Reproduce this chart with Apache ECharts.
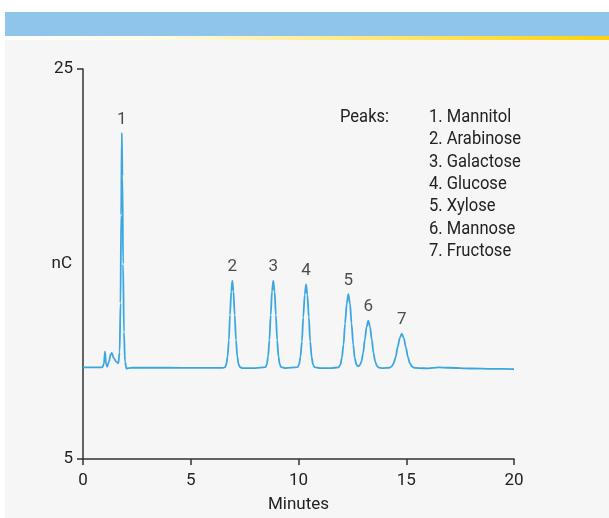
<!DOCTYPE html>
<html>
<head>
<meta charset="utf-8">
<script src="https://cdn.jsdelivr.net/npm/echarts@6/dist/echarts.min.js"></script>
<style>html,body{margin:0;padding:0;background:#fff;}#c{width:609px;height:518px;}</style>
</head>
<body>
<div id="c"></div>
<script>
// chromatogram trace (minutes, nC)
const minutes = [0,0.5,0.9,0.97,1.02,1.07,1.12,1.2,1.28,1.34,1.42,1.55,1.64,1.70,1.74,1.77,1.80,1.83,1.86,1.90,1.95,2.02,2.1,2.3,
  3,4,5,6,6.5,6.60,6.65,6.71,6.77,6.82,6.88,6.93,6.98,7.04,7.10,7.16,7.22,7.28,7.4,
  8,8.47,8.53,8.59,8.65,8.71,8.77,8.83,8.89,8.95,9.01,9.07,9.13,9.19,9.4,
  9.96,10.03,10.09,10.16,10.22,10.29,10.35,10.41,10.48,10.54,10.61,10.67,10.74,11,11.5,
  11.86,11.94,12.01,12.09,12.16,12.24,12.31,12.39,12.46,12.54,12.61,12.69,12.78,
  12.84,12.92,13.00,13.08,13.16,13.24,13.32,13.40,13.48,13.56,13.64,13.72,13.9,
  14.22,14.32,14.41,14.51,14.60,14.70,14.79,14.89,14.98,15.08,15.17,15.27,15.36,15.6,
  16,16.5,17,18,19,20];
const nanoCoulombs = [9.70,9.70,9.70,9.88,10.52,9.88,9.73,9.98,10.35,10.44,10.18,9.98,9.90,10.48,13.0,17.5,21.72,19.5,15.0,11.5,9.98,9.63,9.66,9.68,
  9.68,9.68,9.67,9.67,9.67,9.71,9.86,10.26,11.09,12.39,13.59,14.15,13.59,12.39,11.09,10.26,9.86,9.71,9.66,
  9.66,9.71,9.86,10.26,11.09,12.39,13.59,14.15,13.59,12.39,11.09,10.26,9.86,9.71,9.66,
  9.71,9.85,10.24,11.03,12.27,13.43,13.96,13.43,12.27,11.03,10.24,9.85,9.71,9.66,9.66,
  9.70,9.83,10.17,10.87,11.96,12.98,13.45,12.98,11.96,10.87,10.17,9.83,9.76,
  9.80,9.99,10.43,11.13,11.78,12.09,11.78,11.13,10.43,9.99,9.77,9.69,9.66,
  9.68,9.74,9.90,10.22,10.73,11.20,11.43,11.20,10.73,10.22,9.90,9.74,9.68,9.66,
  9.65,9.70,9.68,9.64,9.62,9.61];

// peak labels
const peakIds = ['1','2','3','4','5','6','7'];
const peakTimes = [1.80,6.93,8.83,10.35,12.31,13.24,14.79];
const peakHeights = [21.72,14.15,14.15,13.96,13.45,12.09,11.43];
const peakNames = ['Mannitol','Arabinose','Galactose','Glucose','Xylose','Mannose','Fructose'];

// axes
const xTicks = [0,5,10,15,20];
const yTicks = [5,25];
const xTitle = 'Minutes';
const yTitle = 'nC';
const legendTitle = 'Peaks:';

const FONT = "'Roboto',sans-serif";
const FS = 17;
const TXT = '#222';
const AX = '#333';

const trace = minutes.map((m,i)=>[m,nanoCoulombs[i]]);
const labels = peakTimes.map((t,i)=>({value:[t,peakHeights[i]], label:{formatter:peakIds[i]}}));
const legendText = peakNames.map((n,i)=>peakIds[i]+'. '+n).join('\n');

const chart = echarts.init(document.getElementById('c'), null, {renderer:'canvas'});
chart.setOption({
  backgroundColor:'#ffffff',
  animation:false,
  textStyle:{fontFamily:FONT},
  graphic:[
    {type:'rect', z:-10, shape:{x:5,y:40,width:604,height:478}, style:{fill:'#f6f6f6'}},
    {type:'rect', z:-10, shape:{x:5,y:12,width:604,height:24}, style:{fill:'#8fc5eb'}},
    {type:'rect', z:-10, shape:{x:5,y:36,width:604,height:4}, style:{fill:new echarts.graphic.LinearGradient(0,0,1,0,[{offset:0,color:'#ffffff'},{offset:0.25,color:'#fffbe8'},{offset:1,color:'#ffd200'}])}},
    {type:'text', x:340, y:106, scaleX:0.92, style:{text:legendTitle, fontFamily:FONT, fontSize:18, lineHeight:22.4, fill:TXT}},
    {type:'text', x:429, y:106, scaleX:0.92, style:{text:legendText, fontFamily:FONT, fontSize:18, lineHeight:22.4, fill:TXT}}
  ],
  grid:{left:83,right:95,top:69,bottom:57},
  xAxis:{
    type:'value', min:0, max:20, interval:5,
    name:xTitle, nameLocation:'middle', nameGap:37, nameMoveOverlap:false,
    nameTextStyle:{fontSize:FS,color:TXT,fontFamily:FONT},
    axisLine:{show:true,lineStyle:{color:AX,width:1.5}},
    axisTick:{show:true,length:6,lineStyle:{color:AX,width:1.5}},
    axisLabel:{fontSize:FS,color:TXT,margin:13,fontFamily:FONT,
      formatter:v=>xTicks.includes(v)?String(v):''},
    splitLine:{show:false}
  },
  yAxis:{
    type:'value', min:5, max:25, interval:20,
    name:yTitle, nameLocation:'middle', nameGap:11, nameRotate:0, nameMoveOverlap:false,
    nameTextStyle:{fontSize:FS,color:TXT,fontFamily:FONT},
    axisLine:{show:true,lineStyle:{color:AX,width:1.5}},
    axisTick:{show:true,length:6,lineStyle:{color:AX,width:1.5}},
    axisLabel:{fontSize:FS,color:TXT,margin:10,fontFamily:FONT,
      formatter:v=>yTicks.includes(v)?String(v):''},
    splitLine:{show:false}
  },
  series:[
    {type:'line', data:trace, showSymbol:false, smooth:0.3, smoothMonotone:'x',
      lineStyle:{color:'#3aa7e1',width:1.8}, z:3},
    {type:'scatter', data:labels, symbolSize:0, silent:true,
      label:{show:true, position:'top', distance:5, fontSize:FS, color:TXT, fontFamily:FONT}}
  ]
});
</script>
</body>
</html>
